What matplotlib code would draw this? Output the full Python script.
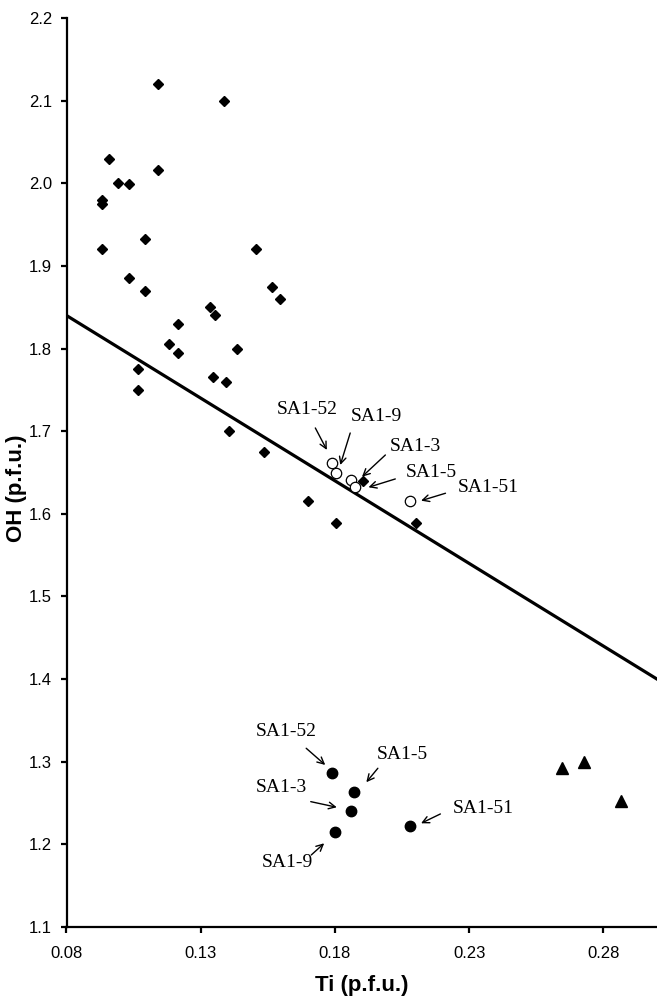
import matplotlib
matplotlib.use("Agg")
import matplotlib.pyplot as plt
import numpy as np

# ---- data ----
diamond_ti = [0.1142, 0.1385, 0.0960, 0.1142, 0.0991, 0.1031, 0.0931, 0.0931,
              0.1092, 0.0931, 0.1505, 0.1031, 0.1565, 0.1092, 0.1595, 0.1334,
              0.1353, 0.1217, 0.1181, 0.1217, 0.1437, 0.1066, 0.1344, 0.1393,
              0.1066, 0.1404, 0.1534, 0.1700, 0.1804, 0.2102, 0.1906]
diamond_oh = [2.120, 2.100, 2.029, 2.016, 2.000, 1.999, 1.980, 1.975,
              1.932, 1.920, 1.921, 1.885, 1.875, 1.870, 1.860, 1.850,
              1.840, 1.830, 1.805, 1.795, 1.800, 1.775, 1.765, 1.760,
              1.750, 1.700, 1.675, 1.615, 1.589, 1.589, 1.640]

open_labels = ["SA1-52", "SA1-9", "SA1-3", "SA1-5", "SA1-51"]
open_ti = [0.1791, 0.1804, 0.1860, 0.1876, 0.2081]
open_oh = [1.661, 1.649, 1.641, 1.632, 1.615]

filled_labels = ["SA1-52", "SA1-5", "SA1-3", "SA1-9", "SA1-51"]
filled_ti = [0.1791, 0.1871, 0.1861, 0.1801, 0.2080]
filled_oh = [1.286, 1.263, 1.240, 1.215, 1.222]

tri_ti = [0.2647, 0.2728, 0.2867]
tri_oh = [1.293, 1.300, 1.253]

line_ti = [0.08, 0.30]
line_intercept = 2.0
line_slope = -2.0

xticks = [0.08, 0.13, 0.18, 0.23, 0.28]
yticks = [1.1, 1.2, 1.3, 1.4, 1.5, 1.6, 1.7, 1.8, 1.9, 2.0, 2.1, 2.2]

# annotation layout: (text x, text y, arrow tail x, tail y, head x, head y)
open_ann = [
    (0.1697, 1.7257, 0.1727, 1.7039, 0.1770, 1.6773),
    (0.1956, 1.7172, 0.1857, 1.6978, 0.1820, 1.6591),
    (0.2100, 1.6809, 0.1988, 1.6712, 0.1901, 1.6449),
    (0.2161, 1.6506, 0.2025, 1.6422, 0.1925, 1.6321),
    (0.2370, 1.6313, 0.2212, 1.6249, 0.2121, 1.6159),
]
filled_ann = [
    (0.1620, 1.3364, 0.1693, 1.3163, 0.1764, 1.2961),
    (0.2052, 1.3082, 0.1960, 1.2921, 0.1917, 1.2752),
    (0.1600, 1.2683, 0.1710, 1.2517, 0.1807, 1.2449),
    (0.1623, 1.1775, 0.1712, 1.1872, 0.1760, 1.2013),
    (0.2351, 1.2440, 0.2193, 1.2368, 0.2121, 1.2255),
]

# ---- figure ----
fig = plt.figure(figsize=(6.57, 10.01), dpi=100)
ax = fig.add_axes([66.5 / 657, 1 - 927 / 1001, 1 - 66.5 / 657, (927 - 18) / 1001])

lx = np.array(line_ti)
ax.plot(lx, line_intercept + line_slope * lx, color="black", lw=2.3, zorder=2, clip_on=True)

ax.plot(diamond_ti, diamond_oh, linestyle="none", marker="D", ms=5.2,
        color="black", zorder=3)
ax.plot(open_ti, open_oh, linestyle="none", marker="o", ms=7.5,
        mfc="white", mec="black", mew=0.9, zorder=4)
ax.plot(filled_ti, filled_oh, linestyle="none", marker="o", ms=7.5,
        color="black", zorder=4)
ax.plot(tri_ti, tri_oh, linestyle="none", marker="^", ms=8,
        color="black", zorder=4)

serif = "Liberation Serif"
for lab, (tx, ty, ax0, ay0, hx, hy) in zip(open_labels, open_ann):
    ax.text(tx, ty, lab, ha="center", va="center", fontsize=14, family=serif)
    ax.annotate("", xy=(hx, hy), xytext=(ax0, ay0),
                arrowprops=dict(arrowstyle="->", lw=1.0, color="black",
                                shrinkA=0, shrinkB=0, mutation_scale=12))
for lab, (tx, ty, ax0, ay0, hx, hy) in zip(filled_labels, filled_ann):
    ax.text(tx, ty, lab, ha="center", va="center", fontsize=14, family=serif)
    ax.annotate("", xy=(hx, hy), xytext=(ax0, ay0),
                arrowprops=dict(arrowstyle="->", lw=1.0, color="black",
                                shrinkA=0, shrinkB=0, mutation_scale=12))

ax.set_xlim(0.08, 0.30)
ax.set_ylim(1.1, 2.2)
ax.set_xticks(xticks)
ax.set_xticklabels([f"{v:.2f}" for v in xticks])
ax.set_yticks(yticks)
ax.set_yticklabels([f"{v:.1f}" for v in yticks])

for s in ["top", "right"]:
    ax.spines[s].set_visible(False)
for s in ["left", "bottom"]:
    ax.spines[s].set_linewidth(1.6)

sans = "Liberation Sans"
ax.tick_params(axis="both", direction="out", length=4.5, width=1.6,
               labelsize=12, pad=6)
ax.tick_params(axis="x", pad=9)
for lbl in ax.get_xticklabels() + ax.get_yticklabels():
    lbl.set_family(sans)

ax.set_xlabel("Ti (p.f.u.)", fontsize=16, fontweight="bold", family=sans)
ax.set_ylabel("OH (p.f.u.)", fontsize=16, fontweight="bold", family=sans)
ax.xaxis.set_label_coords(0.5, -0.0525)
ax.yaxis.set_label_coords(-0.067, 0.483)

fig.savefig("out.png", dpi=100)
